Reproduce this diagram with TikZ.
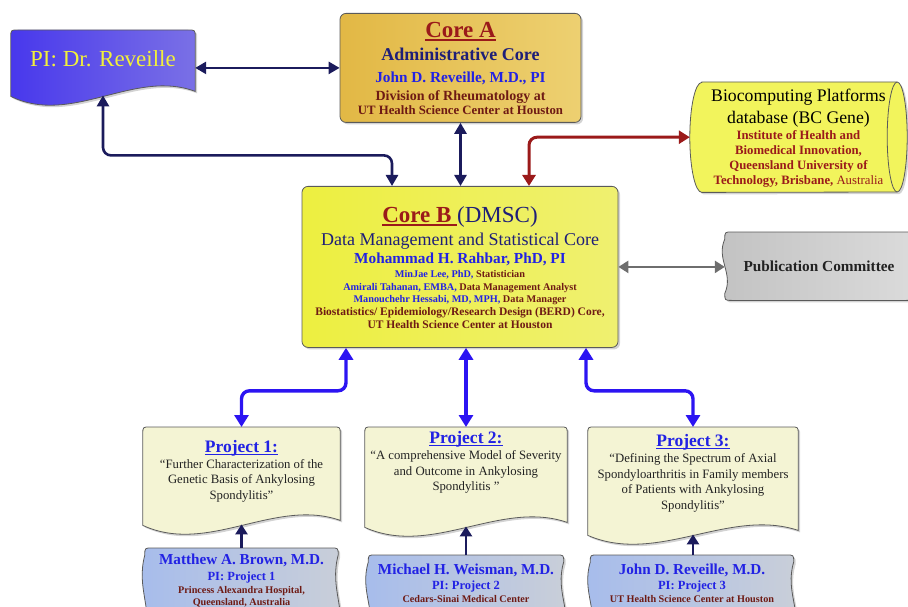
\documentclass[tikz,border=0pt]{standalone}
\usepackage{fontspec}
\setmainfont{Liberation Serif}
\usetikzlibrary{arrows.meta,calc,shadows,backgrounds}

\definecolor{navyline}{HTML}{1B1B5C}
\definecolor{navytext}{HTML}{1E1E78}
\definecolor{corered}{HTML}{9A1A1A}
\definecolor{brownred}{HTML}{6E1A14}
\definecolor{textblue}{HTML}{2222E4}
\definecolor{projblue}{HTML}{2C14F2}
\definecolor{redline}{HTML}{9B1A1A}
\definecolor{grayline}{HTML}{6E6E6E}
\definecolor{boxline}{HTML}{5A5A5A}
\definecolor{pileft}{HTML}{4838EC}
\definecolor{piright}{HTML}{7A70E6}
\definecolor{pitext}{HTML}{F2F03A}
\definecolor{coraleft}{HTML}{E2B845}
\definecolor{coraright}{HTML}{EDD071}
\definecolor{corbleft}{HTML}{EDEF40}
\definecolor{corbright}{HTML}{EFF070}
\definecolor{bcfill}{HTML}{F2F45C}
\definecolor{publeft}{HTML}{C2C2C2}
\definecolor{pubright}{HTML}{DCDCDC}
\definecolor{pubtext}{HTML}{222222}
\definecolor{projfill}{HTML}{F4F4D4}
\definecolor{ppileft}{HTML}{A6BCEC}
\definecolor{ppiright}{HTML}{CACFD8}
\definecolor{quotetext}{HTML}{222222}

\newcommand{\fs}[1]{\fontsize{#1}{#1}\selectfont}
\newcommand{\tightlines}{\baselineskip=0pt\lineskiplimit=-1000pt\lineskip=0pt}
\newsavebox{\titlebox}
\newcommand{\titleline}[1]{\sbox{\titlebox}{#1}\rlap{\rule[-.15em]{\wd\titlebox}{.07em}}\usebox{\titlebox}}

% document shape: flat top, wavy bottom round the node's south side
\newcommand{\docshape}[2]{%
  \draw[#2] ($(#1.south west)+(0,1)$) -- ($(#1.north west)+(0,7)$)
    .. controls (#1.north west) .. ($(#1.north west)+(7,0)$)
    -- ($(#1.north east)+(-7,0)$)
    .. controls (#1.north east) .. ($(#1.north east)+(0,7)$)
    -- ($(#1.south east)+(0,-4)$)
    .. controls ($(#1.south east)!.33!(#1.south west)+(0,-27)$) and ($(#1.south east)!.67!(#1.south west)+(0,31)$) .. ($(#1.south west)+(0,1)$)
    -- cycle;}

% tape shape: wavy left and right sides
\newcommand{\tapeshape}[2]{%
  \draw[#2] ($(#1.north west)+(7,0)$) -- ($(#1.north east)+(-7,0)$)
    .. controls (#1.north east) .. ($(#1.north east)+(0,7)$)
    .. controls ($(#1.north east)!.4!(#1.south east)+(-9,0)$) and ($(#1.north east)!.6!(#1.south east)+(9,0)$) .. ($(#1.south east)+(0,-7)$)
    .. controls (#1.south east) .. ($(#1.south east)+(-7,0)$)
    -- ($(#1.south west)+(7,0)$)
    .. controls (#1.south west) .. ($(#1.south west)+(0,-7)$)
    .. controls ($(#1.north west)!.6!(#1.south west)+(9,0)$) and ($(#1.north west)!.4!(#1.south west)+(-9,0)$) .. ($(#1.north west)+(0,7)$)
    .. controls (#1.north west) .. ($(#1.north west)+(7,0)$)
    -- cycle;}

\begin{document}
\begin{tikzpicture}[x=1pt,y=-1pt,
    box/.style={draw=boxline, line width=0.8pt,
      drop shadow={shadow xshift=2pt, shadow yshift=-2pt, opacity=0.35}},
    txt/.style={align=center, inner sep=0pt, anchor=north},
    navyarrow/.style={draw=navyline, line width=2.6pt, rounded corners=8pt,
      {Triangle[length=11pt,width=12pt]}-{Triangle[length=11pt,width=12pt]}},
    redarrow/.style={draw=redline, line width=3pt, rounded corners=8pt,
      {Triangle[length=11pt,width=13pt]}-{Triangle[length=11pt,width=13pt]}},
    grayarrow/.style={draw=grayline, line width=2.8pt,
      {Triangle[length=10pt,width=12pt]}-{Triangle[length=10pt,width=12pt]}},
    bluearrow/.style={draw=projblue, line width=3.4pt, rounded corners=8pt,
      {Triangle[length=12pt,width=14pt]}-{Triangle[length=12pt,width=14pt]}},
    uparrow/.style={draw=navyline, line width=2.8pt, -{Triangle[length=10pt,width=12pt]}}]

    \useasboundingbox (0,0) rectangle (908,607);
    \clip (0,0) rectangle (908,607);

    % top row
    \node[txt, text=pitext, minimum width=184pt, text height=36.5pt, text depth=28.5pt, font=\fs{23}] (pi) at (103,30) {PI: Dr. Reveille};

    \node[txt, box, rounded corners=6pt, left color=coraleft, right color=coraright,
          minimum width=241pt, text height=101pt, text depth=8pt, font={\bfseries\tightlines}] (coreA) at (460.5,13)
        {{\fs{23}\color{corered}\titleline{Core A}}\\[23pt]
         {\fs{18}\color{navytext}Administrative Core}\\[22pt]
         {\fs{15.3}\color{textblue}John D. Reveille, M.D., PI}\\[18pt]
         {\fs{14}\color{brownred}Division of Rheumatology at}\\[14pt]
         {\fs{12.75}\color{brownred}UT Health Science Center at Houston}};

    \node[txt, minimum width=217pt, text height=102.5pt, text depth=7.5pt, font=\tightlines] (bc) at (798.5,82)
        {{\fs{17.7}Biocomputing Platforms}\\[22.5pt]
         {\fs{17.7}database (BC Gene)}\\[16pt]
         {\fs{12.75}\bfseries\color{corered}Institute of Health and}\\[15pt]
         {\fs{12.75}\bfseries\color{corered}Biomedical Innovation,}\\[15pt]
         {\fs{12.75}\bfseries\color{corered}Queensland University of}\\[15pt]
         {\fs{12.75}\color{corered}\textbf{Technology, Brisbane,} Australia}};

    % core B
    \node[txt, box, rounded corners=6pt, left color=corbleft, right color=corbright,
          minimum width=316pt, text height=142pt, text depth=19pt, font={\bfseries\tightlines}] (coreB) at (460,186)
        {{\fs{23}\color{corered}\titleline{Core B\ }}{\fs{23}\mdseries\color{navytext}(DMSC)}\\[23pt]
         {\fs{18}\mdseries\color{navytext}Data Management and Statistical Core}\\[18pt]
         {\fs{15.3}\color{textblue}Mohammad H. Rahbar, PhD, PI}\\[14pt]
         {\fs{10.25}\color{textblue}MinJae Lee, PhD, \color{brownred}Statistician}\\[13pt]
         {\fs{10.25}\color{textblue}Amirali Tahanan, EMBA, \color{brownred}Data Management Analyst}\\[12pt]
         {\fs{10.25}\color{textblue}Manouchehr Hessabi, MD, MPH, \color{brownred}Data Manager}\\[13.5pt]
         {\fs{11.5}\color{brownred}Biostatistics/ Epidemiology/Research Design (BERD) Core,}\\[12.5pt]
         {\fs{11.5}\color{brownred}UT Health Science Center at Houston}};

    \node[txt, text=pubtext, minimum width=188pt, text height=39.5pt, text depth=28.5pt, font={\fs{15.3}\bfseries}] (pub) at (819,232) {Publication Committee};

    % projects
    \node[txt, text=quotetext, minimum width=197pt, text height=72pt, text depth=25pt, font={\fs{12.75}\tightlines}] (p1) at (241.5,427)
        {{\fs{17.5}\bfseries\color{textblue}\titleline{Project 1:}}\\[16pt]
         “Further Characterization of the\\[15.5pt]
         Genetic Basis of Ankylosing\\[15.5pt]
         Spondylitis”};
    \node[txt, text=quotetext, minimum width=202pt, text height=63.5pt, text depth=35.5pt, font={\fs{12.75}\tightlines}] (p2) at (466,427)
        {{\fs{17.5}\bfseries\color{textblue}\titleline{Project 2:}}\\[16pt]
         “A comprehensive Model of Severity\\[15.5pt]
         and Outcome in Ankylosing\\[15.5pt]
         Spondylitis ”};
    \node[txt, text=quotetext, minimum width=210pt, text height=82pt, text depth=25pt, font={\fs{12.75}\tightlines}] (p3) at (693,427)
        {{\fs{17.5}\bfseries\color{textblue}\titleline{Project 3:}}\\[16pt]
         “Defining the Spectrum of Axial\\[15.5pt]
         Spondyloarthritis in Family members\\[15.5pt]
         of Patients with Ankylosing\\[15.5pt]
         Spondylitis”};

    % project PIs
    \node[txt, minimum width=193pt, text height=57pt, text depth=45pt, font={\bfseries\tightlines}] (pi1) at (241.5,548)
        {{\fs{15.2}\color{textblue}Matthew A. Brown, M.D.}\\[16pt]
         {\fs{12.5}\color{textblue}PI: Project 1}\\[13.5pt]
         {\fs{10.2}\color{brownred}Princess Alexandra Hospital,}\\[11.5pt]
         {\fs{10.2}\color{brownred}Queensland, Australia}};
    \node[txt, minimum width=195pt, text height=47.5pt, text depth=45pt, font={\bfseries\tightlines}] (pi2) at (466,555)
        {{\fs{15.2}\color{textblue}Michael H. Weisman, M.D.}\\[15.5pt]
         {\fs{12.5}\color{textblue}PI: Project 2}\\[13pt]
         {\fs{10.2}\color{brownred}Cedars-Sinai Medical Center}};
    \node[txt, minimum width=203pt, text height=47.5pt, text depth=45pt, font={\bfseries\tightlines}] (pi3) at (692,555)
        {{\fs{15.2}\color{textblue}John D. Reveille, M.D.}\\[15.5pt]
         {\fs{12.5}\color{textblue}PI: Project 3}\\[13pt]
         {\fs{10.2}\color{brownred}UT Health Science Center at Houston}};

    % outlines behind the texts
    \begin{scope}[on background layer]
        \clip (0,0) rectangle (908,607);
        \docshape{pi}{box, left color=pileft, right color=piright}
        \draw[box, fill=bcfill] ($(bc.north west)+(12,0)$) -- ($(bc.north east)+(-10,0)$)
            arc[start angle=-90, end angle=90, x radius=10, y radius=55]
            -- ($(bc.south west)+(12,0)$)
            arc[start angle=90, end angle=270, x radius=12, y radius=55] -- cycle;
        \draw[draw=boxline, line width=0.8pt] ($(bc.north east)+(-10,0)$)
            arc[start angle=270, end angle=90, x radius=10, y radius=55];
        \tapeshape{pub}{box, left color=publeft, right color=pubright}
        \docshape{p1}{box, fill=projfill}
        \docshape{p2}{box, fill=projfill}
        \docshape{p3}{box, fill=projfill}
        \tapeshape{pi1}{box, left color=ppileft, right color=ppiright}
        \tapeshape{pi2}{box, left color=ppileft, right color=ppiright}
        \tapeshape{pi3}{box, left color=ppileft, right color=ppiright}
    \end{scope}

    % connectors
    \path[navyarrow] (pi.east |- coreA.west) -- (coreA.west);
    \path[navyarrow] (coreA.south) -- (coreA.south |- coreB.north);
    \path[navyarrow] (pi.south) -- ++(0,60) -| ([xshift=-68pt]coreB.north);
    \path[redarrow] ([xshift=69pt]coreB.north) |- (bc.west);
    \path[grayarrow] (coreB.east) -- (coreB.east -| pub.west);
    \path[bluearrow] ([xshift=-114pt]coreB.south) -- ++(0,43) -| (p1.north);
    \path[bluearrow] (coreB.south -| p2.north) -- (p2.north);
    \path[bluearrow] ([xshift=126pt]coreB.south) -- ++(0,43) -| (p3.north);
    \path[uparrow] (pi1.north) -- (p1.south);
    \path[uparrow] (pi2.north) -- (p2.south);
    \path[uparrow] (p3.south |- pi3.north) -- (p3.south);
\end{tikzpicture}
\end{document}
